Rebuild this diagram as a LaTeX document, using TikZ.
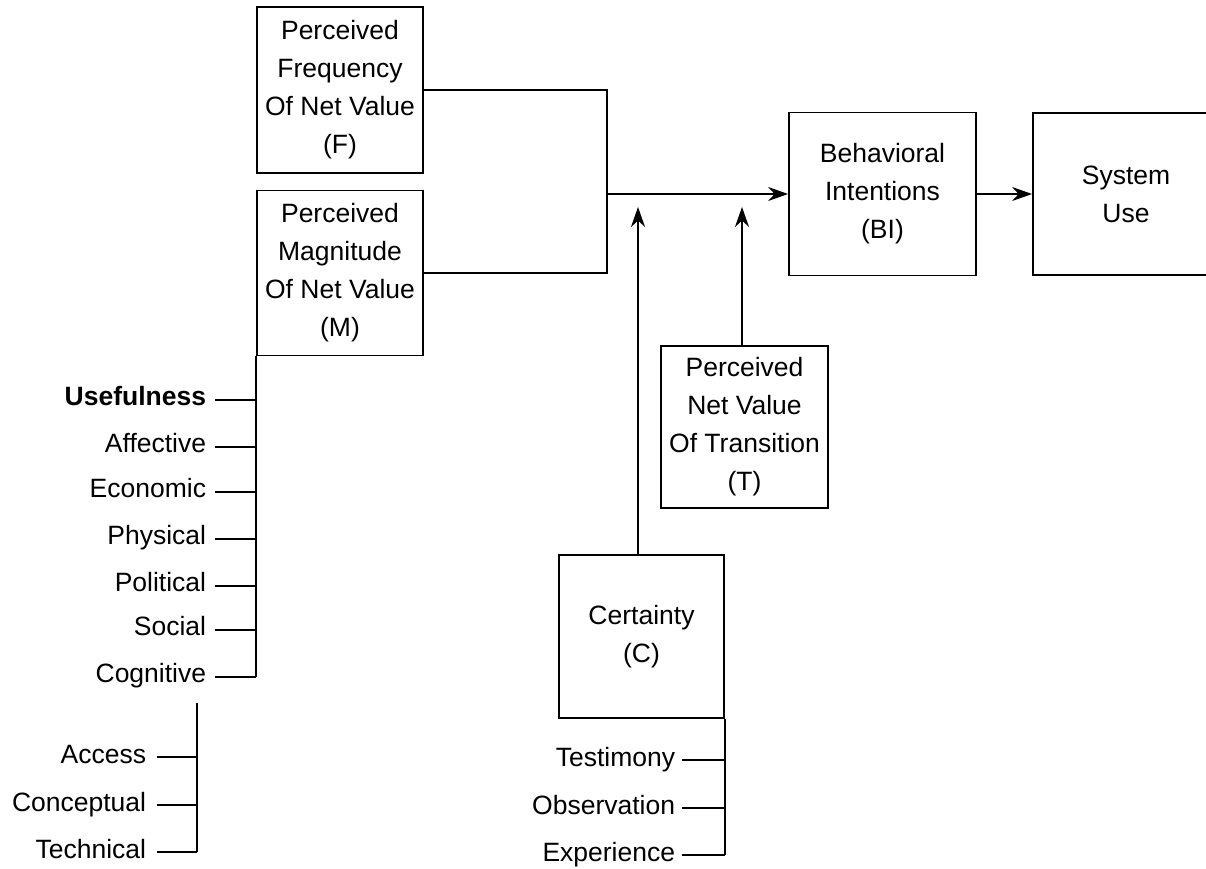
\documentclass[tikz,border=0pt]{standalone}
\usepackage{fontspec}
\setmainfont{Liberation Sans}
\usetikzlibrary{arrows.meta}
\begin{document}
\begin{tikzpicture}[x=1pt,y=-1pt, line width=1.8pt,
  box/.style={draw, align=center, inner sep=0pt, font=\fontsize{26.5}{38}\selectfont},
  lbl/.style={anchor=base east, inner sep=0pt, font=\fontsize{26.5}{30}\selectfont},
  arr/.style={-{Stealth[length=20pt,width=14pt]}}]
\useasboundingbox (0,0) rectangle (1206,869);
% boxes
\node[box, minimum width=166pt, minimum height=166pt] (F) at (340,90) {Perceived\\Frequency\\Of Net Value\\(F)};
\node[box, minimum width=166pt, minimum height=165pt] (M) at (340,273) {Perceived\\Magnitude\\Of Net Value\\(M)};
\node[box, minimum width=187pt, minimum height=163pt] (BI) at (882.5,194) {Behavioral\\Intentions\\(BI)};
\node[box, minimum width=186pt, minimum height=162pt] (SU) at (1126,194) {System\\Use};
\node[box, minimum width=167pt, minimum height=162pt] (T) at (744.5,427) {Perceived\\Net Value\\Of Transition\\(T)};
\node[box, minimum width=165pt, minimum height=163pt] (C) at (641.5,636.5) {Certainty\\(C)};
% junction and arrows
\coordinate (j) at (607,194);
\coordinate (tip) at (0,207);
\draw (F.east) -| (j) |- (M.east);
\draw[arr] (j) -- (BI.west);
\draw[arr] (BI.east) -- (SU.west);
\coordinate (cb) at (638,555);
\coordinate (tb) at (742,346);
\draw[arr] (cb) -- (cb |- tip);
\draw[arr] (tb) -- (tb |- tip);
% left list
\foreach \n/\t/\y in {u/{\bfseries Usefulness}/400, a/Affective/447, e/Economic/492, p/Physical/539, po/Political/586, s/Social/630, c/Cognitive/677}{
  \node[lbl] (\n) at (207,\y+5) {\t};
  \coordinate (\n t) at ([shift={(8pt,5pt)}]\n.base east);
  \draw (\n t) -- (\n t -| M.south west);
}
\draw (M.south west) -- (ct -| M.south west);
% cognitive sub list
\coordinate (cs) at (197,703);
\foreach \n/\t/\y in {ac/Access/757, co/Conceptual/805, te/Technical/852}{
  \node[lbl] (\n) at (147,\y+6) {\t};
  \coordinate (\n t) at ([shift={(10pt,6pt)}]\n.base east);
  \draw (\n t) -- (\n t -| cs);
}
\draw (cs) -- (tet -| cs);
% certainty list
\foreach \n/\t/\y in {ts/Testimony/760, ob/Observation/808, ex/Experience/855}{
  \node[lbl] (\n) at (676,\y+6) {\t};
  \coordinate (\n t) at ([shift={(6pt,6pt)}]\n.base east);
  \draw (\n t) -- (\n t -| C.south east);
}
\draw (C.south east) -- (ext -| C.south east);
\end{tikzpicture}
\end{document}
